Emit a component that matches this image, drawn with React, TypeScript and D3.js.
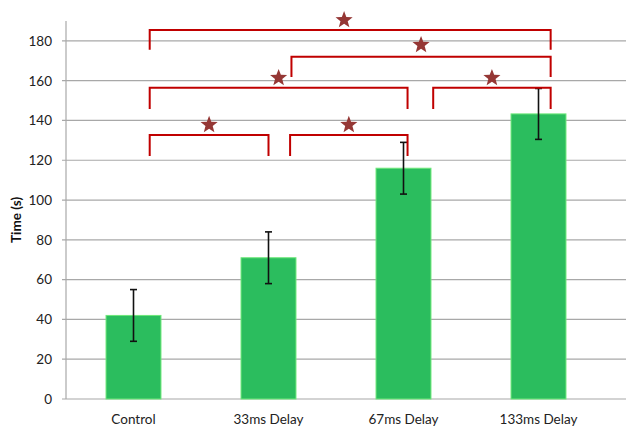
import React from "react";
import * as d3 from "d3";

// Mean completion time per condition, with error-bar half-widths
const categories = ["Control", "33ms Delay", "67ms Delay", "133ms Delay"];
const means = [42, 71, 116, 143.3];
const errors = [13, 13, 13, 12.8];
const yTicks = [0, 20, 40, 60, 80, 100, 120, 140, 160, 180];

// Significance brackets: from/to category index, top level and leg bottom (in seconds),
// plus where each end sits relative to the category centre (fraction of the band)
const bracketFrom = [0, 1, 0, 2, 1, 0];
const bracketTo = [1, 2, 2, 3, 3, 3];
const bracketTop = [132.7, 132.7, 156.4, 156.4, 172, 185.5];
const bracketBottom = [122.2, 122.2, 145.8, 145.8, 161.9, 175.5];
const bracketStartOffset = [0.12, 0.16, 0.12, 0.22, 0.17, 0.12];
const bracketEndOffset = [0.0, 0.03, 0.03, 0.09, 0.09, 0.09];
const starLevel = [138.3, 138.3, 161.9, 161.9, 178.5, 191];
const starShift = [0, 0, 0, 0, 0, -0.045];

const W = 626;
const H = 430;
const margin = { left: 66 };

function starPath(cx: number, cy: number, outer: number, inner: number) {
  const pts: string[] = [];
  for (let i = 0; i < 10; i++) {
    const r = i % 2 === 0 ? outer : inner;
    const a = -Math.PI / 2 + (i * Math.PI) / 5;
    pts.push(`${cx + r * Math.cos(a)},${cy + r * Math.sin(a)}`);
  }
  return `M${pts.join("L")}Z`;
}

export default function App() {
  const x = d3
    .scaleBand<string>()
    .domain(categories)
    .range([margin.left, margin.left + 540])
    .paddingInner(0.593)
    .paddingOuter(0.2965);
  const y = d3.scaleLinear().domain([0, 190]).range([399, 21]);
  const step = x.step();
  const center = (i: number) => (x(categories[i]) as number) + x.bandwidth() / 2;

  const font = "Lato, 'Open Sans', sans-serif";

  return (
    <svg
      width={W}
      height={H}
      style={{ position: "absolute", left: 0, top: 0, background: "#fff" }}
      fontFamily={font}
    >
      {/* gridlines and tick labels */}
      {yTicks.map((t) => (
        <g key={t}>
          <line x1={62} x2={W} y1={y(t)} y2={y(t)} stroke="#a8a8a8" strokeWidth={1.2} />
          <text x={52} y={y(t)} dy="0.36em" textAnchor="end" fontSize={13.5} fill="#222">
            {t}
          </text>
        </g>
      ))}
      {/* y axis line */}
      <line x1={66} x2={66} y1={y(0)} y2={y(190)} stroke="#a8a8a8" strokeWidth={1.2} />
      <text
        transform={`translate(16.5,${(y(0) + y(180)) / 2}) rotate(-90)`}
        textAnchor="middle"
        dy="0.35em"
        fontSize={13.5}
        fontWeight="bold"
        fill="#111"
      >
        Time (s)
      </text>

      {/* bars */}
      {categories.map((c, i) => (
        <rect
          key={c}
          x={x(c)}
          y={y(means[i])}
          width={x.bandwidth()}
          height={y(0) - y(means[i])}
          fill="#2bbd5e"
          stroke="#6ee87a"
          strokeWidth={1}
        />
      ))}

      {/* error bars */}
      {categories.map((c, i) => {
        const cx = center(i);
        const lo = y(means[i] - errors[i]);
        const hi = y(means[i] + errors[i]);
        return (
          <g key={c} stroke="#111" strokeWidth={1.6}>
            <line x1={cx} x2={cx} y1={lo} y2={hi} />
            <line x1={cx - 3.5} x2={cx + 3.5} y1={lo} y2={lo} />
            <line x1={cx - 3.5} x2={cx + 3.5} y1={hi} y2={hi} />
          </g>
        );
      })}

      {/* category labels */}
      {categories.map((c, i) => (
        <text key={c} x={center(i)} y={424} textAnchor="middle" fontSize={13.5} fill="#222">
          {c}
        </text>
      ))}

      {/* significance brackets */}
      {bracketFrom.map((f, k) => {
        const x1 = center(f) + bracketStartOffset[k] * step;
        const x2 = center(bracketTo[k]) + bracketEndOffset[k] * step;
        const yt = y(bracketTop[k]);
        const yb = y(bracketBottom[k]);
        const sx = (x1 + x2) / 2 + starShift[k] * step;
        return (
          <g key={k}>
            <path
              d={`M${x1},${yb}V${yt}H${x2}V${yb}`}
              fill="none"
              stroke="#c00000"
              strokeWidth={2}
            />
            <path d={starPath(sx, y(starLevel[k]) + 1, 9, 3.8)} fill="#953735" />
          </g>
        );
      })}
    </svg>
  );
}
